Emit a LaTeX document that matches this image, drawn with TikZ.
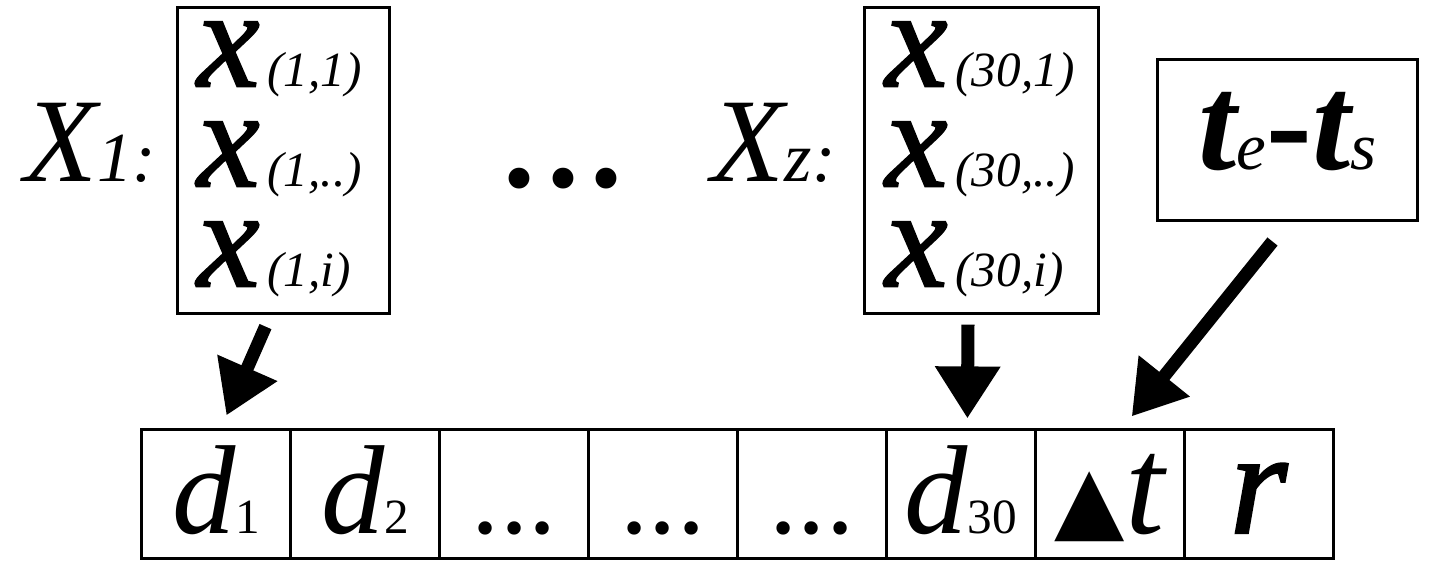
\documentclass[tikz,border=0pt]{standalone}
\usepackage{fontspec}
\setmainfont{Liberation Serif}
\newfontfamily\symfont{DejaVu Sans}
\newfontfamily\heavyit[FakeBold=1.5]{Liberation Serif Italic}
\usepackage{tikz}
\usetikzlibrary{arrows.meta}
\usetikzlibrary{positioning}
\newcommand{\fs}[1]{\fontsize{#1}{#1}\selectfont}
\newcommand{\xent}[1]{{\fs{40}\heavyit x}\kern0.08cm{\fs{14}\itshape(#1)}}
\newcommand{\dsub}[1]{{\fs{36}\itshape d}{\fs{14}#1}}
\tikzset{
	box node/.style={draw,line width=0.03cm,inner sep=0pt},
	cell node/.style={draw,line width=0.03cm,inner sep=0pt,minimum width=1.48875cm,
		text height=1.03cm,text depth=0.25cm},
	entry/.style={inner sep=0pt,anchor=base west},
	big arrow/.style={-{Triangle[length=5.2mm,width=6.2mm]},line width=1.3mm}
}

\begin{document}
\begin{tikzpicture}[x=0.01cm,y=-0.01cm]
	\useasboundingbox (0,0) rectangle (1429,564);
	% first vector
	\node[entry] (lab1) at (24,182) {{\fs{34}\itshape X}{\fs{20}\itshape 1:}};
	\node[box node,minimum width=2.11cm,minimum height=3.05cm] (box1) at (283.5,160.5) {};
	\node[entry] (x11) at ([shift={(20,80)}]box1.north west) {\xent{1,1}};
	\node[entry] (x1m) at ([shift={(0,100)}]x11.base west) {\xent{1,..}};
	\node[entry] (x1i) at ([shift={(0,100)}]x1m.base west) {\xent{1,i}};
	\node[inner sep=0pt,anchor=base] (dots) at (563,187) {\fs{50}...};
	% last vector
	\node[entry] (labz) at (711,182) {{\fs{34}\itshape X}{\fs{20}\itshape z:}};
	\node[box node,minimum width=2.33cm,minimum height=3.05cm] (box2) at (981.5,160.5) {};
	\node[entry] (x301) at ([shift={(21,80)}]box2.north west) {\xent{30,1}};
	\node[entry] (x30m) at ([shift={(0,100)}]x301.base west) {\xent{30,..}};
	\node[entry] (x30i) at ([shift={(0,100)}]x30m.base west) {\xent{30,i}};
	% duration
	\node[box node,minimum width=2.59cm,text height=1.1cm,text depth=0.5cm,anchor=base] (box3) at (1287.5,170)
		{{\fs{39}\bfseries\itshape t}{\fs{19}\itshape e}{\fs{39}\bfseries -}{\fs{39}\bfseries\itshape t}{\fs{19}\itshape s}};
	% record
	\foreach \nm/\txt [count=\i] in {d1/{\dsub{1}},d2/{\dsub{2}},e1/{\fs{32}...},e2/{\fs{32}...},e3/{\fs{32}...},
		d30/{\dsub{30}},dt/{{\symfont\fs{26}\raisebox{0.03cm}{▲}}{\fs{40}\itshape t}},r/{\fs{42}\heavyit r}}
		\node[cell node] (\nm) at ({142+148.875*(\i-0.5)},494) {\txt};
	\draw[big arrow] ([shift={(-18,12)}]box1.south) -- ([shift={(10,-13)}]d1.north);
	\draw[big arrow] ([shift={(-13.5,10)}]box2.south) -- ([shift={(6.6,-10)}]d30.north);
	\draw[big arrow] ([shift={(-15,20)}]box3.south) -- ([shift={(22,-12)}]dt.north);
\end{tikzpicture}
\end{document}
